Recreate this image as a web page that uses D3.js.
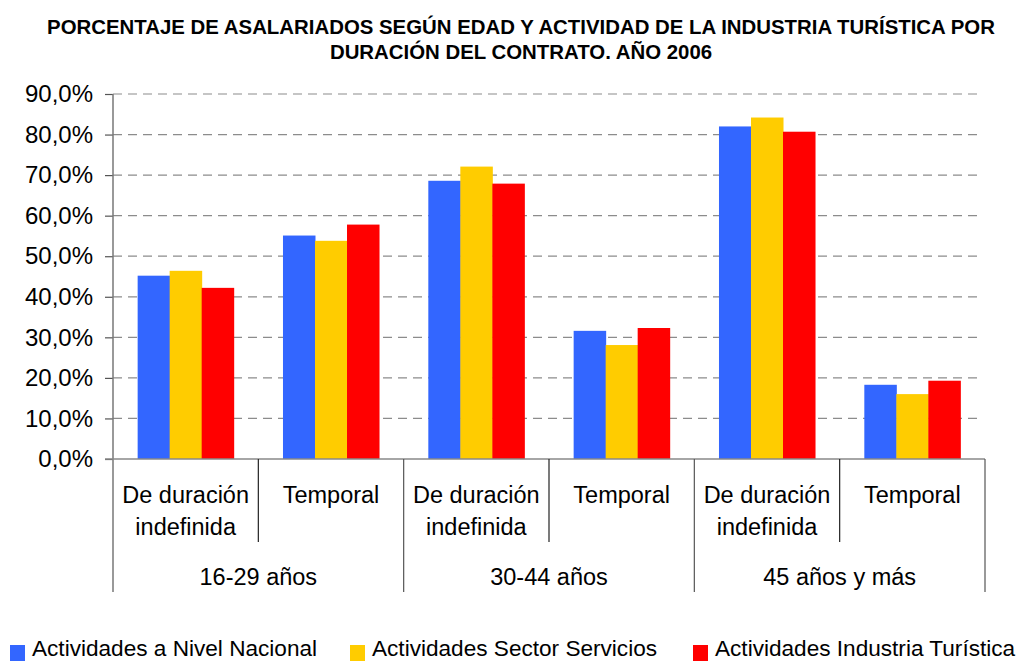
<!DOCTYPE html>
<html>
<head>
<meta charset="utf-8">
<script src="https://cdn.jsdelivr.net/npm/d3@7"></script>
<style>
  body { margin: 0; background: #fff; }
  text { font-family: "Liberation Sans", Arial, sans-serif; fill: #000; }
</style>
</head>
<body>
<div id="chart"></div>
<script>
// data
const groups = ['16-29 años', '30-44 años', '45 años y más'];
const contracts = ['De duración indefinida', 'Temporal'];
const seriesNames = ['Actividades a Nivel Nacional', 'Actividades Sector Servicios', 'Actividades Industria Turística'];
const nacional = [45.2, 55.1, 68.6, 31.6, 82.0, 18.3];
const servicios = [46.4, 53.8, 72.1, 28.1, 84.2, 16.0];
const turistica = [42.2, 57.8, 67.9, 32.3, 80.7, 19.3];
const yTicks = [0, 10, 20, 30, 40, 50, 60, 70, 80, 90];
const colors = ['#3366FF', '#FFCC00', '#FF0000'];

const W = 1019, H = 662;
const MARGIN = {TOP: 94, LEFT: 113, RIGHT: 34, BOTTOM: 203};
const WIDTH = W - MARGIN.LEFT - MARGIN.RIGHT;
const HEIGHT = H - MARGIN.TOP - MARGIN.BOTTOM;

const svg = d3.select('#chart').append('svg')
  .attr('width', W).attr('height', H);

// title
const title = svg.append('text')
  .attr('text-anchor', 'middle')
  .style('font-weight', 'bold')
  .style('font-size', '20.4px');
title.append('tspan').attr('x', 521).attr('y', 34)
  .text('PORCENTAJE DE ASALARIADOS SEGÚN EDAD Y ACTIVIDAD DE LA INDUSTRIA TURÍSTICA POR');
title.append('tspan').attr('x', 521).attr('y', 59)
  .text('DURACIÓN DEL CONTRATO. AÑO 2006');

const g = svg.append('g').attr('transform', `translate(${MARGIN.LEFT},${MARGIN.TOP})`);

// one band per group/contract pair
const cats = [];
groups.forEach(gr => contracts.forEach(c => cats.push({group: gr, contract: c, key: gr + '|' + c})));

const x0 = d3.scaleBand().domain(cats.map(d => d.key)).range([0, WIDTH]);
const x1 = d3.scaleBand().domain(seriesNames).range([0, x0.bandwidth()])
  .paddingInner(0).paddingOuter(0.77);
const y = d3.scaleLinear().domain([0, 90]).range([HEIGHT, 0]);

// dashed gridlines
g.append('g').selectAll('line')
  .data(yTicks.filter(d => d > 0))
  .join('line')
    .attr('x1', 0).attr('x2', WIDTH - 4)
    .attr('y1', d => y(d)).attr('y2', d => y(d))
    .attr('stroke', '#8c8c8c')
    .attr('stroke-width', 1.2)
    .attr('stroke-dasharray', '9,6');

// y axis
const yAxis = g.append('g')
  .call(d3.axisLeft(y).tickValues(yTicks).tickSize(8).tickPadding(12)
    .tickFormat(d => d3.format('.1f')(d).replace('.', ',') + '%'));
yAxis.select('.domain').remove();
yAxis.selectAll('.tick line').attr('stroke', '#555').attr('stroke-width', 1.2);
yAxis.selectAll('.tick text')
  .style('font-size', '24px')
  .style('font-family', '"Liberation Sans", Arial, sans-serif')
  .attr('fill', '#000');

// bars
const seriesData = [nacional, servicios, turistica];
seriesData.forEach((vals, si) => {
  g.append('g').selectAll('rect')
    .data(vals)
    .join('rect')
      .attr('x', (d, i) => x0(cats[i].key) + x1(seriesNames[si]))
      .attr('width', x1.bandwidth() + 0.5)
      .attr('y', d => y(d))
      .attr('height', d => y(0) - y(d))
      .attr('fill', colors[si]);
});

// axis lines
g.append('line')
  .attr('x1', 0).attr('x2', 0).attr('y1', 0).attr('y2', HEIGHT + 133)
  .attr('stroke', '#777').attr('stroke-width', 1.5);
g.append('line')
  .attr('x1', -8).attr('x2', WIDTH).attr('y1', HEIGHT).attr('y2', HEIGHT)
  .attr('stroke', '#888').attr('stroke-width', 1.5);

// separators between categories
cats.forEach((c, i) => {
  const xs = x0(c.key) + x0.bandwidth();
  const groupEnd = i % 2 === 1;
  g.append('line')
    .attr('x1', xs).attr('x2', xs)
    .attr('y1', HEIGHT).attr('y2', HEIGHT + (groupEnd ? 133 : 83))
    .attr('stroke', groupEnd ? '#555' : '#222').attr('stroke-width', 1.2);
});

// category labels
const catLabels = g.append('g');
cats.forEach(c => {
  const cx = x0(c.key) + x0.bandwidth() / 2;
  const t = catLabels.append('text').attr('text-anchor', 'middle').style('font-size', '23.5px');
  if (c.contract === 'Temporal') {
    t.append('tspan').attr('x', cx).attr('y', HEIGHT + 44).text('Temporal');
  } else {
    t.append('tspan').attr('x', cx).attr('y', HEIGHT + 44).text('De duración');
    t.append('tspan').attr('x', cx).attr('y', HEIGHT + 76).text('indefinida');
  }
});
groups.forEach((gr, gi) => {
  const a = x0(cats[gi * 2].key), b = x0(cats[gi * 2 + 1].key) + x0.bandwidth();
  catLabels.append('text')
    .attr('x', (a + b) / 2).attr('y', HEIGHT + 126)
    .attr('text-anchor', 'middle').style('font-size', '23.5px')
    .text(gr);
});

// legend
const legendX = [10, 350, 693];
const legend = svg.append('g');
seriesNames.forEach((s, i) => {
  legend.append('rect')
    .attr('x', legendX[i]).attr('y', 645).attr('width', 15).attr('height', 16)
    .attr('fill', colors[i]);
  legend.append('text')
    .attr('x', legendX[i] + 22).attr('y', 656)
    .style('font-size', '22.6px')
    .text(s);
});
</script>
</body>
</html>
